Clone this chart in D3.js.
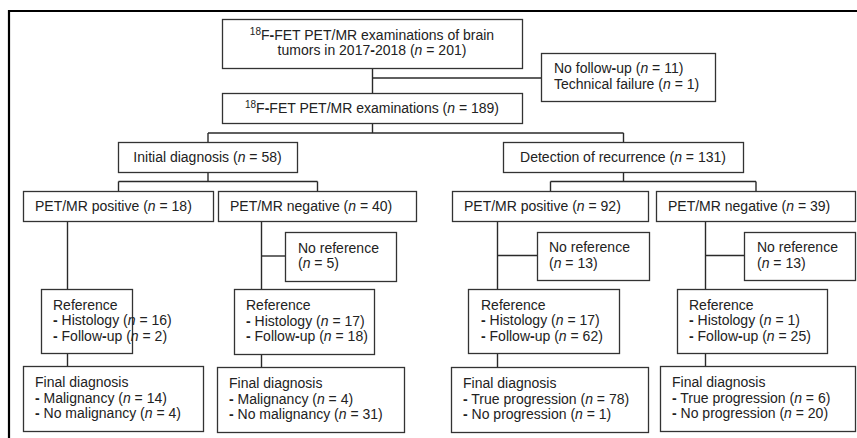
<!DOCTYPE html>
<html>
<head>
<meta charset="utf-8">
<script src="https://cdn.jsdelivr.net/npm/d3@7"></script>
<style>
  html, body { margin: 0; padding: 0; background: #fff; }
  svg { display: block; }
  text { font-family: "Liberation Sans", Arial, sans-serif; font-size: 14px; fill: #222; }
</style>
</head>
<body>
<svg id="chart" width="857" height="438"></svg>
<script>
// ---------- DATA ----------
const totalExams = 201;
const studyYears = "2017-2018";
const exclusionLabels = ["No follow-up", "Technical failure"];
const exclusionCounts = [11, 1];
const includedExams = 189;
const indicationLabels = ["Initial diagnosis", "Detection of recurrence"];
const indicationCounts = [58, 131];
const petLabels = ["PET/MR positive", "PET/MR negative", "PET/MR positive", "PET/MR negative"];
const petCounts = [18, 40, 92, 39];
const noReferenceCounts = [null, 5, 13, 13];
const histologyCounts = [16, 17, 17, 1];
const followUpCounts = [2, 18, 62, 25];
const finalLabels = [
  ["Malignancy", "No malignancy"],
  ["Malignancy", "No malignancy"],
  ["True progression", "No progression"],
  ["True progression", "No progression"]
];
const finalCounts = [[14, 4], [4, 31], [78, 1], [6, 20]];

// ---------- LAYOUT (positions only) ----------
const L = {
  top:      {x: 222, y: 19,  w: 300, h: 49, align: "middle"},
  excl:     {x: 541, y: 53,  w: 174, h: 48, align: "start", pad: 13},
  incl:     {x: 222, y: 93,  w: 300, h: 30, align: "middle"},
  ind: [
    {x: 118, y: 142, w: 179, h: 30, align: "middle"},
    {x: 503, y: 142, w: 240, h: 30, align: "middle"}
  ],
  pet: [
    {x: 23,  y: 191, w: 190, h: 30, align: "start", pad: 12},
    {x: 218, y: 191, w: 198, h: 30, align: "start", pad: 12},
    {x: 452, y: 191, w: 196, h: 30, align: "start", pad: 12},
    {x: 656, y: 191, w: 199, h: 30, align: "start", pad: 12}
  ],
  stemX: [67, 261, 497, 705],
  noref: [
    null,
    {x: 285, y: 232, w: 111, h: 49, align: "start", pad: 13},
    {x: 537, y: 232, w: 112, h: 48, align: "start", pad: 12},
    {x: 744, y: 232, w: 111, h: 48, align: "start", pad: 13}
  ],
  ref: [
    {x: 41,  y: 289, w: 91,  h: 64, align: "start", pad: 12},
    {x: 234, y: 289, w: 140, h: 65, align: "start", pad: 12},
    {x: 468, y: 289, w: 151, h: 64, align: "start", pad: 13},
    {x: 677, y: 289, w: 150, h: 64, align: "start", pad: 12}
  ],
  fin: [
    {x: 23,  y: 366, w: 180, h: 65, align: "start", pad: 12},
    {x: 217, y: 367, w: 187, h: 65, align: "start", pad: 12},
    {x: 451, y: 367, w: 197, h: 65, align: "start", pad: 12},
    {x: 660, y: 366, w: 195, h: 65, align: "start", pad: 12}
  ],
  lineH: 15.5
};

// ---------- TEXT HELPERS ----------
// segment: {t, i (italic), s (superscript), b (bold)}
const nSeg = v => [{t: "("}, {t: "n", i: true}, {t: " = " + v + ")"}];
const hy = () => ({t: "-", b: true});

function labelled(label, v) { return [{t: label + " "}].concat(nSeg(v)); }

const svg = d3.select("#chart");

// frame
svg.append("line").attr("x1", 8).attr("x2", 857).attr("y1", 11).attr("y2", 11)
  .attr("stroke", "#000").attr("stroke-width", 2.2);
svg.append("line").attr("x1", 9).attr("x2", 9).attr("y1", 10).attr("y2", 438)
  .attr("stroke", "#000").attr("stroke-width", 2.2);

const gLines = svg.append("g").attr("stroke", "#2a2a2a").attr("stroke-width", 1.4).attr("fill", "none");
const gBoxes = svg.append("g");

function box(b, lines) {
  gBoxes.append("rect")
    .attr("x", b.x + 0.5).attr("y", b.y + 0.5).attr("width", b.w).attr("height", b.h)
    .attr("fill", "#fff").attr("stroke", "#333").attr("stroke-width", 1.3);
  const cy = b.y + b.h / 2;
  const n = lines.length;
  const off = n === 1 ? 5 : 4;
  lines.forEach((segs, k) => {
    const y = cy + off + (k - (n - 1) / 2) * L.lineH;
    const t = gBoxes.append("text")
      .attr("x", b.align === "middle" ? b.x + b.w / 2 : b.x + b.pad)
      .attr("y", y)
      .attr("text-anchor", b.align);
    segs.forEach(s => {
      const ts = t.append("tspan").text(s.t);
      if (s.i) ts.attr("font-style", "italic");
      if (s.b) ts.attr("font-weight", "bold");
      if (s.s) ts.attr("font-size", "10px").attr("dy", -5);
      if (s.after) ts.attr("dy", 5);
    });
  });
}

function seg(x1, y1, x2, y2) {
  gLines.append("line").attr("x1", x1).attr("y1", y1).attr("x2", x2).attr("y2", y2);
}
const cx = b => b.x + b.w / 2 + 0.5;
const bot = b => b.y + b.h + 0.5;

// ---------- CONNECTORS ----------
const mainX = cx(L.top);
seg(mainX, bot(L.top), mainX, L.incl.y);
seg(mainX, 78, L.excl.x, 78);
const split1 = 133;
seg(mainX, bot(L.incl), mainX, split1);
seg(cx(L.ind[0]) , split1, cx(L.ind[1]), split1);
L.ind.forEach(b => seg(cx(b), split1, cx(b), b.y));
const split2 = 181.5;
[[0, 1], [2, 3]].forEach(([a, c], gi) => {
  const ib = L.ind[gi];
  seg(cx(ib), bot(ib), cx(ib), split2);
  seg(cx(L.pet[a]), split2, cx(L.pet[c]), split2);
  [a, c].forEach(k => seg(cx(L.pet[k]), split2, cx(L.pet[k]), L.pet[k].y));
});
L.pet.forEach((pb, k) => {
  const sx = L.stemX[k] + 0.5;
  seg(sx, bot(pb), sx, L.fin[k].y);
  const nr = L.noref[k];
  if (nr) seg(sx, nr.y + nr.h / 2 - 0.5, nr.x, nr.y + nr.h / 2 - 0.5);
});

// ---------- BOXES ----------
box(L.top, [
  [{t: "18", s: true}, {t: "F", after: true}, hy(), {t: "FET PET/MR examinations of brain"}],
  [{t: "tumors in 2017"}, hy(), {t: "2018 "}].concat(nSeg(totalExams))
]);
box(L.excl, exclusionLabels.map((lab, k) => {
  if (lab === "No follow-up") return [{t: "No follow"}, hy(), {t: "up "}].concat(nSeg(exclusionCounts[k]));
  return labelled(lab, exclusionCounts[k]);
}));
box(L.incl, [
  [{t: "18", s: true}, {t: "F", after: true}, hy(), {t: "FET PET/MR examinations "}].concat(nSeg(includedExams))
]);
L.ind.forEach((b, k) => box(b, [labelled(indicationLabels[k], indicationCounts[k])]));
L.pet.forEach((b, k) => box(b, [labelled(petLabels[k], petCounts[k])]));
L.noref.forEach((b, k) => {
  if (!b) return;
  box(b, [[{t: "No reference"}], nSeg(noReferenceCounts[k])]);
});
L.ref.forEach((b, k) => box(b, [
  [{t: "Reference"}],
  [hy(), {t: " Histology "}].concat(nSeg(histologyCounts[k])),
  [hy(), {t: " Follow"}, hy(), {t: "up "}].concat(nSeg(followUpCounts[k]))
]));
L.fin.forEach((b, k) => box(b, [
  [{t: "Final diagnosis"}],
  [hy(), {t: " " + finalLabels[k][0] + " "}].concat(nSeg(finalCounts[k][0])),
  [hy(), {t: " " + finalLabels[k][1] + " "}].concat(nSeg(finalCounts[k][1]))
]));
</script>
</body>
</html>
